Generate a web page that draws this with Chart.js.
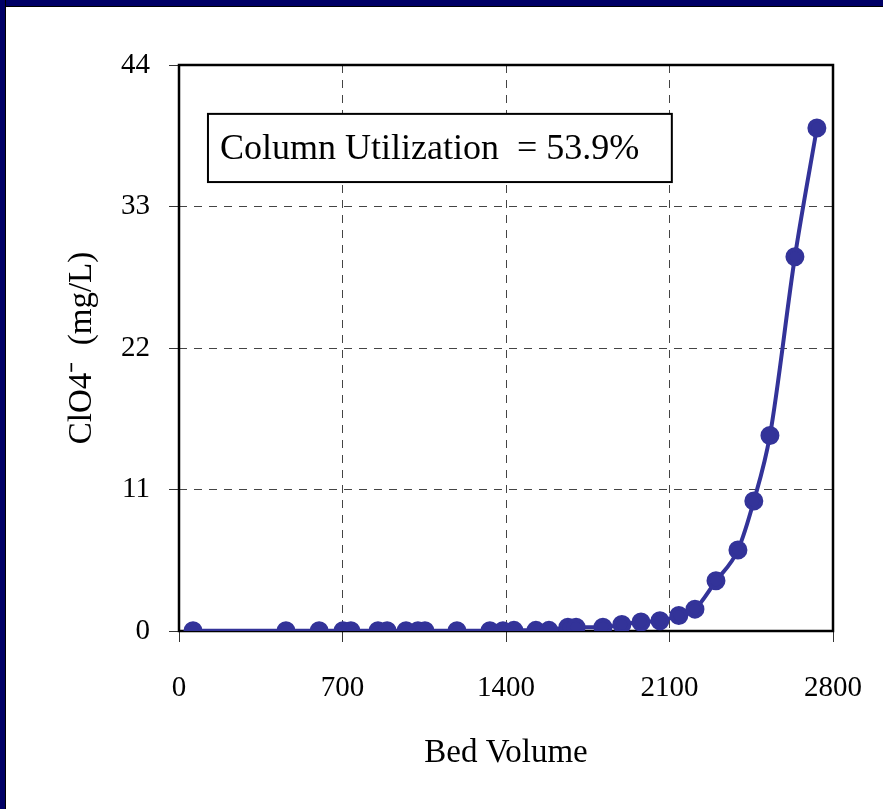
<!DOCTYPE html>
<html>
<head>
<meta charset="utf-8">
<script src="https://cdn.jsdelivr.net/npm/chart.js@4/dist/chart.umd.min.js"></script>
<style>
  html, body { margin: 0; padding: 0; background: #fff; }
  #wrap { position: relative; width: 883px; height: 809px; overflow: hidden; }
  #topBar { position: absolute; left: 0; top: 0; width: 883px; height: 6px; background: #000066; border-bottom: 1px solid #000; }
  #leftBar { position: absolute; left: 0; top: 0; width: 5px; height: 809px; background: #000066; border-right: 1px solid #000; }
  canvas { position: absolute; left: 0; top: 0; }
</style>
</head>
<body>
<div id="wrap">
  <canvas id="chartJsCanvas" width="883" height="809"></canvas>
  <div id="topBar"></div>
  <div id="leftBar"></div>
</div>
<script>
// bed volumes and effluent perchlorate (mg/L)
const bedVolume = [60, 458, 600, 702, 736, 852, 891, 972, 1023, 1053, 1190, 1331, 1387, 1434, 1528, 1584,
  1665, 1700, 1815, 1896, 1978, 2059, 2140, 2209, 2299, 2393, 2461, 2530, 2637, 2731];
const perchlorate = [0.02, 0.02, 0.02, 0.02, 0.02, 0.02, 0.02, 0.02, 0.02, 0.02, 0.02, 0.02, 0.02, 0.05, 0.05, 0.05,
  0.3, 0.3, 0.3, 0.5, 0.7, 0.8, 1.2, 1.7, 3.9, 6.3, 10.1, 15.2, 29.1, 39.1];
const xTicks = [0, 700, 1400, 2100, 2800];
const yTicks = [0, 11, 22, 33, 44];
const boxText = 'Column Utilization  = 53.9%';

const serif = '"Liberation Serif", "Times New Roman", serif';

// white text box with black frame, and the solid plot frame
const boxPlugin = {
  id: 'boxPlugin',
  beforeDatasetsDraw(chart) {
    const ctx = chart.ctx;
    const a = chart.chartArea;
    ctx.save();
    ctx.strokeStyle = '#000';
    ctx.lineWidth = 2.5;
    ctx.strokeRect(a.left, a.top, a.right - a.left, a.bottom - a.top);
    const x = chart.scales.x, y = chart.scales.y;
    const l = x.getPixelForValue(124), r = x.getPixelForValue(2110);
    const t = y.getPixelForValue(40.2), b = y.getPixelForValue(34.9);
    ctx.fillStyle = '#fff';
    ctx.fillRect(l, t, r - l, b - t);
    ctx.lineWidth = 2;
    ctx.strokeRect(l, t, r - l, b - t);
    ctx.fillStyle = '#000';
    ctx.font = '36px ' + serif;
    ctx.textBaseline = 'middle';
    ctx.fillText(boxText, l + 12, (t + b) / 2 + 2);
    ctx.restore();
  }
};

new Chart(document.getElementById('chartJsCanvas'), {
  type: 'scatter',
  data: {
    datasets: [{
      data: bedVolume.map((v, i) => ({ x: v, y: perchlorate[i] })),
      showLine: true,
      borderColor: '#333399',
      backgroundColor: '#333399',
      borderWidth: 4,
      pointRadius: 7.5,
      pointHoverRadius: 7.5,
      cubicInterpolationMode: 'monotone'
    }]
  },
  options: {
    responsive: false,
    animation: false,
    layout: { padding: { top: 65, right: 50, left: 0, bottom: 0 } },
    plugins: { legend: { display: false }, tooltip: { enabled: false } },
    scales: {
      x: {
        type: 'linear',
        min: 0, max: 2800,
        afterFit(scale) { scale.height = 178; scale.paddingLeft = 0; scale.paddingRight = 0; },
        afterBuildTicks(scale) { scale.ticks = xTicks.map(v => ({ value: v })); },
        ticks: { color: '#000', font: { family: serif, size: 29 }, padding: 29, maxRotation: 0, callback: v => String(v) },
        grid: { color: '#444', tickLength: 11, tickColor: '#333' },
        border: { display: false, dash: [8, 7] },
        title: { display: true, text: 'Bed Volume', color: '#000', font: { family: serif, size: 33 }, padding: { bottom: 36 } }
      },
      y: {
        type: 'linear',
        min: 0, max: 44,
        afterFit(scale) { scale.width = 179; scale.paddingTop = 0; scale.paddingBottom = 0; },
        afterBuildTicks(scale) { scale.ticks = yTicks.map(v => ({ value: v })); },
        ticks: { color: '#000', font: { family: serif, size: 29 }, padding: 19, callback: v => String(v) },
        grid: { color: '#444', tickLength: 10, tickColor: '#333' },
        border: { display: false, dash: [8, 7] },
        title: { display: true, text: 'ClO4\u207B  (mg/L)', color: '#000', font: { family: serif, size: 33 }, padding: { top: 63 } }
      }
    }
  },
  plugins: [boxPlugin]
});
</script>
</body>
</html>
